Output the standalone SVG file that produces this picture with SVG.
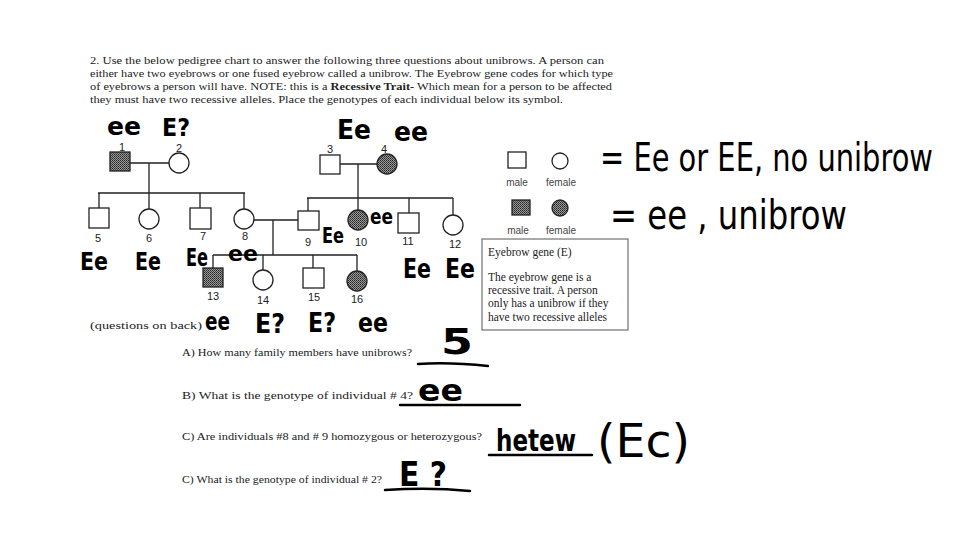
<svg xmlns="http://www.w3.org/2000/svg" width="960" height="540" viewBox="0 0 960 540">
<defs>
<pattern id="stip" width="2" height="2" patternUnits="userSpaceOnUse">
<rect width="2" height="2" fill="#9a9a9a"/>
<rect width="1" height="1" fill="#222"/>
<rect x="1" y="1" width="1" height="1" fill="#444"/>
</pattern>
<style>
.ln{stroke:#222;stroke-width:1.3;fill:none}
.open{fill:#fff;stroke:#222;stroke-width:1.3}
.aff{fill:url(#stip);stroke:#222;stroke-width:1.3}
.num{font-family:"Liberation Sans",Arial,sans-serif;font-size:11px;fill:#222;text-anchor:middle}
.hdr{font-family:"Liberation Serif","Times New Roman",serif;font-size:11.2px;fill:#222}
.q{font-family:"Liberation Serif","Times New Roman",serif;font-size:11px;fill:#222}
.leg{font-family:"Liberation Sans",Arial,sans-serif;font-size:10px;fill:#444;text-anchor:middle}
.box{font-family:"Liberation Serif","Times New Roman",serif;font-size:11.5px;fill:#222}
.hw{font-family:"DejaVu Sans",sans-serif;font-weight:bold;fill:#000}
.hw2{font-family:"DejaVu Sans",sans-serif;font-weight:normal;fill:#000}
.pen{stroke:#000;stroke-width:2.5;fill:none;stroke-linecap:round}
</style>
</defs>
<rect width="960" height="540" fill="#fff"/>

<g id="header">
<text class="hdr" x="90" y="64" textLength="514" lengthAdjust="spacingAndGlyphs">2. Use the below pedigree chart to answer the following three questions about unibrows.  A person can</text>
<text class="hdr" x="90" y="77" textLength="523" lengthAdjust="spacingAndGlyphs">either have two eyebrows or one fused eyebrow called a unibrow.  The Eyebrow gene codes for which type</text>
<text class="hdr" x="90" y="90" textLength="522" lengthAdjust="spacingAndGlyphs">of eyebrows a person will have.  NOTE:  this is a <tspan font-weight="bold">Recessive Trait-</tspan> Which mean for a person to be affected</text>
<text class="hdr" x="90" y="103" textLength="473" lengthAdjust="spacingAndGlyphs">they must have two recessive alleles.  Place the genotypes of each individual below its symbol.</text>
</g>

<g id="connectors">
<path class="ln" d="M130 163 H169 M149 163 V193 M98 193 H245 M99 193 V208 M149 193 V209 M200 193 V208 M244 193 V209"/>
<path class="ln" d="M340 164 H377 M358 164 V198 M307 198 H453 M308 198 V211 M358 198 V210 M409 198 V213 M453 198 V215"/>
<path class="ln" d="M254 220 H298 M273 220 V255 M213 255 H357 M213 255 V268 M263 255 V270 M313 255 V268 M357 255 V271"/>
</g>

<g id="p1"><rect class="aff" x="110" y="152" width="20" height="19"/><text class="num" x="122" y="151" font-size="9">1</text></g>
<g id="p2"><circle class="open" cx="179" cy="163" r="10"/><text class="num" x="179" y="152" font-size="10">2</text></g>
<g id="p3"><rect class="open" x="320" y="155" width="20" height="19"/><text class="num" x="330" y="153">3</text></g>
<g id="p4"><circle class="aff" cx="387" cy="164" r="10"/><text class="num" x="384" y="153">4</text></g>
<g id="p5"><rect class="open" x="89" y="208" width="20" height="20"/><text class="num" x="98" y="242">5</text></g>
<g id="p6"><circle class="open" cx="149" cy="219" r="10"/><text class="num" x="149" y="242">6</text></g>
<g id="p7"><rect class="open" x="190" y="208" width="21" height="21"/><text class="num" x="203" y="240">7</text></g>
<g id="p8"><circle class="open" cx="244" cy="219" r="10"/><text class="num" x="245" y="240">8</text></g>
<g id="p9"><rect class="open" x="298" y="211" width="21" height="19"/><text class="num" x="308" y="246">9</text></g>
<g id="p10"><circle class="aff" cx="358" cy="220" r="10"/><text class="num" x="361" y="246">10</text></g>
<g id="p11"><rect class="open" x="398" y="213" width="21" height="20"/><text class="num" x="408" y="245">11</text></g>
<g id="p12"><circle class="open" cx="453" cy="225" r="10"/><text class="num" x="455" y="248">12</text></g>
<g id="p13"><rect class="aff" x="203" y="268" width="20" height="19"/><text class="num" x="213" y="300">13</text></g>
<g id="p14"><circle class="open" cx="263" cy="280" r="10"/><text class="num" x="263" y="304">14</text></g>
<g id="p15"><rect class="open" x="303" y="268" width="21" height="20"/><text class="num" x="314" y="301">15</text></g>
<g id="p16"><circle class="aff" cx="357" cy="281" r="10"/><text class="num" x="357" y="303">16</text></g>

<g id="genotypes">
<text class="hw" x="107" y="135" font-size="24" textLength="34" lengthAdjust="spacingAndGlyphs">ee</text>
<text class="hw" x="162" y="136" font-size="24" textLength="28" lengthAdjust="spacingAndGlyphs">E?</text>
<text class="hw" x="337" y="139" font-size="27" textLength="34" lengthAdjust="spacingAndGlyphs">Ee</text>
<text class="hw" x="394" y="141" font-size="27" textLength="34" lengthAdjust="spacingAndGlyphs">ee</text>
<text class="hw" x="370" y="224" font-size="22" textLength="23" lengthAdjust="spacingAndGlyphs">ee</text>
<text class="hw" x="322" y="243" font-size="21" textLength="22" lengthAdjust="spacingAndGlyphs">Ee</text>
<text class="hw" x="80" y="270" font-size="25" textLength="28" lengthAdjust="spacingAndGlyphs">Ee</text>
<text class="hw" x="135" y="270" font-size="25" textLength="26" lengthAdjust="spacingAndGlyphs">Ee</text>
<text class="hw" x="186" y="266" font-size="24" textLength="22" lengthAdjust="spacingAndGlyphs">Ee</text>
<text class="hw" x="228" y="261" font-size="21" textLength="30" lengthAdjust="spacingAndGlyphs">ee</text>
<text class="hw" x="403" y="278" font-size="26" textLength="28" lengthAdjust="spacingAndGlyphs">Ee</text>
<text class="hw" x="445" y="278" font-size="26" textLength="30" lengthAdjust="spacingAndGlyphs">Ee</text>
<text class="hw" x="205" y="330" font-size="25" textLength="25" lengthAdjust="spacingAndGlyphs">ee</text>
<text class="hw" x="255" y="333" font-size="26" textLength="30" lengthAdjust="spacingAndGlyphs">E?</text>
<text class="hw" x="308" y="332" font-size="26" textLength="28" lengthAdjust="spacingAndGlyphs">E?</text>
<text class="hw" x="358" y="332" font-size="26" textLength="30" lengthAdjust="spacingAndGlyphs">ee</text>
</g>

<g id="legend">
<rect class="open" x="508" y="152" width="18" height="16"/>
<text class="leg" x="517" y="186">male</text>
<circle class="open" cx="560" cy="161" r="8"/>
<text class="leg" x="561" y="186">female</text>
<rect class="aff" x="512" y="200" width="18" height="15"/>
<text class="leg" x="518" y="234">male</text>
<circle class="aff" cx="560" cy="208" r="8"/>
<text class="leg" x="561" y="234">female</text>
<rect x="482" y="239" width="146" height="91" fill="#fff" stroke="#555" stroke-width="1"/>
<text class="box" x="488" y="256">Eyebrow gene (E)</text>
<text class="box" x="488" y="281">The eyebrow gene is a</text>
<text class="box" x="488" y="294">recessive trait.  A person</text>
<text class="box" x="488" y="307">only has a unibrow if they</text>
<text class="box" x="488" y="321">have two recessive alleles</text>
</g>

<g id="key-notes">
<text class="hw2" transform="translate(600,171) scale(1,1.35)" x="0" y="0" font-size="29" textLength="333" lengthAdjust="spacingAndGlyphs">= Ee or EE, no unibrow</text>
<text class="hw2" transform="translate(610,229) scale(1,1.25)" x="0" y="0" font-size="32" textLength="237" lengthAdjust="spacingAndGlyphs">= ee , unibrow</text>
</g>

<g id="questions">
<text class="q" x="90" y="329" textLength="112" lengthAdjust="spacingAndGlyphs">(questions on back)</text>
<text class="q" x="182" y="356" textLength="230" lengthAdjust="spacingAndGlyphs">A)  How many family members have unibrows?</text>
<text class="q" x="182" y="399" textLength="231" lengthAdjust="spacingAndGlyphs">B)    What is the genotype of individual # 4?</text>
<text class="q" x="182" y="440" textLength="300" lengthAdjust="spacingAndGlyphs">C)  Are individuals #8 and # 9  homozygous or heterozygous?</text>
<text class="q" x="182" y="483" textLength="200" lengthAdjust="spacingAndGlyphs">C) What is the genotype of individual # 2?</text>
</g>

<g id="answers">
<text class="hw" x="441" y="354" font-size="36" textLength="32" lengthAdjust="spacingAndGlyphs">5</text>
<path class="pen" d="M418 364 Q450 362 488 366"/>
<text class="hw" x="418" y="401" font-size="30" textLength="45" lengthAdjust="spacingAndGlyphs">ee</text>
<path class="pen" d="M400 405 H520"/>
<text class="hw" x="496" y="451" font-size="30" textLength="80" lengthAdjust="spacingAndGlyphs">hetew</text>
<path class="pen" d="M489 455 H592"/>
<text class="hw2" x="597" y="457" font-size="46" textLength="93" lengthAdjust="spacingAndGlyphs">(Ec)</text>
<text class="hw" x="399" y="486" font-size="34" textLength="48" lengthAdjust="spacingAndGlyphs">E ?</text>
<path class="pen" d="M385 490 Q430 487 470 491"/>
</g>
</svg>
